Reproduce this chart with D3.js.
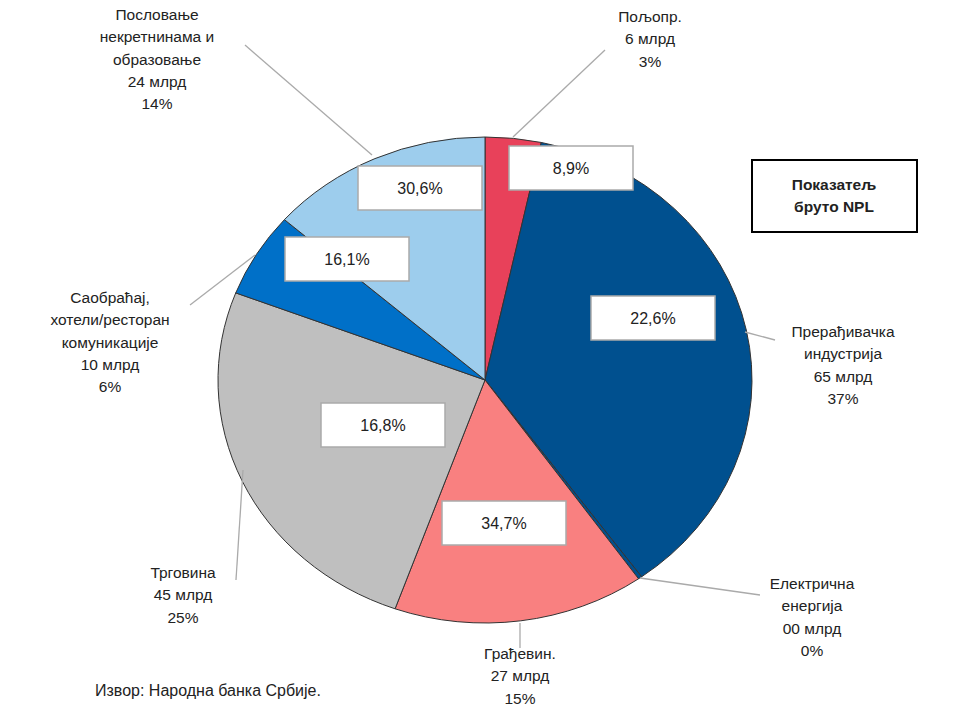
<!DOCTYPE html>
<html><head><meta charset="utf-8">
<script src="https://cdn.jsdelivr.net/npm/d3@7"></script>
<style>body{margin:0;background:#fff}text{font-family:"Liberation Sans",Arial,sans-serif;font-size:15.5px;fill:#222}</style>
</head><body><svg width="971" height="712"></svg>
<script>
var sectors = ['Пољопр.', 'Прерађивачка индустрија', 'Електрична енергија', 'Грађевин.', 'Трговина', 'Саобраћај, хотели/ресторан комуникације', 'Пословање некретнинама и образовање'];
var amounts = [6, 65, 0.4, 27, 45, 10, 24];
var amountLabels = ['6 млрд', '65 млрд', '00 млрд', '27 млрд', '45 млрд', '10 млрд', '24 млрд'];
var shares = ['3%', '37%', '0%', '15%', '25%', '6%', '14%'];
var npl = ['8,9%', '22,6%', '0', '34,7%', '16,8%', '16,1%', '30,6%'];
var colors = ['#E8415A', '#00508F', '#00508F', '#F98080', '#BFBFBF', '#0070C8', '#9DCDED'];

// label text lines (layout only)
var labelLines = [
  ['Пољопр.'], ['Прерађивачка', 'индустрија'], ['Електрична', 'енергија'], ['Грађевин.'],
  ['Трговина'], ['Саобраћај,', 'хотели/ресторан', 'комуникације'], ['Пословање', 'некретнинама и', 'образовање']
];
var labelPos = [[650, 22], [843, 337], [812, 589], [520, 659], [183, 578], [110, 303], [157, 20]];
var leaders = [[[513, 137], [605, 50]], [[745, 332], [775, 340]], [[640, 578], [760, 595]], [[520, 623], [520, 648]],
  [[243, 470], [236, 580]], [[255, 255], [190, 305]], [[372, 155], [245, 45]]];
var boxPos = [[571, 168], [653, 318], null, [504, 523], [383, 425], [347, 259], [420, 188]];

var svg = d3.select('svg');
var cx = 485, cy = 380, rx = 267, ry = 243;

var pie = d3.pie().sort(null).value(d => d)(amounts);
var arc = d3.arc().innerRadius(0).outerRadius(ry);

var g = svg.append('g').attr('transform', 'translate(' + cx + ',' + cy + ') scale(' + (rx / ry) + ',1)');
g.selectAll('path').data(pie).enter().append('path')
  .attr('d', arc)
  .attr('fill', (d, i) => colors[i])
  .attr('stroke', '#333').attr('stroke-width', 1).attr('vector-effect', 'non-scaling-stroke');

// leader lines
svg.selectAll('line.lead').data(leaders).enter().append('line')
  .attr('x1', d => d[0][0]).attr('y1', d => d[0][1])
  .attr('x2', d => d[1][0]).attr('y2', d => d[1][1])
  .attr('stroke', '#aaa').attr('stroke-width', 1.3);

// outer labels
sectors.forEach(function(s, i) {
  var lines = labelLines[i].concat([amountLabels[i], shares[i]]);
  var t = svg.append('text').attr('text-anchor', 'middle');
  lines.forEach(function(l, j) {
    t.append('tspan').attr('x', labelPos[i][0]).attr('y', labelPos[i][1] + j * 22.3).text(l);
  });
});

// NPL boxes
npl.forEach(function(v, i) {
  if (!boxPos[i]) return;
  svg.append('rect').attr('x', boxPos[i][0] - 62).attr('y', boxPos[i][1] - 22)
    .attr('width', 124).attr('height', 44).attr('fill', '#fff').attr('stroke', '#aaa').attr('stroke-width', 1.5);
  svg.append('text').attr('x', boxPos[i][0]).attr('y', boxPos[i][1] + 6).attr('text-anchor', 'middle')
    .style('font-size', '16px').text(v);
});

// legend box
svg.append('rect').attr('x', 752).attr('y', 160).attr('width', 165).attr('height', 72)
  .attr('fill', '#fff').attr('stroke', '#000').attr('stroke-width', 2);
svg.append('text').attr('x', 834).attr('y', 190).attr('text-anchor', 'middle').style('font-weight', 'bold').text('Показатељ');
svg.append('text').attr('x', 834).attr('y', 212).attr('text-anchor', 'middle').style('font-weight', 'bold').text('бруто NPL');

svg.append('text').attr('x', 95).attr('y', 696).style('font-size', '16px').text('Извор: Народна банка Србије.');
</script></body></html>
